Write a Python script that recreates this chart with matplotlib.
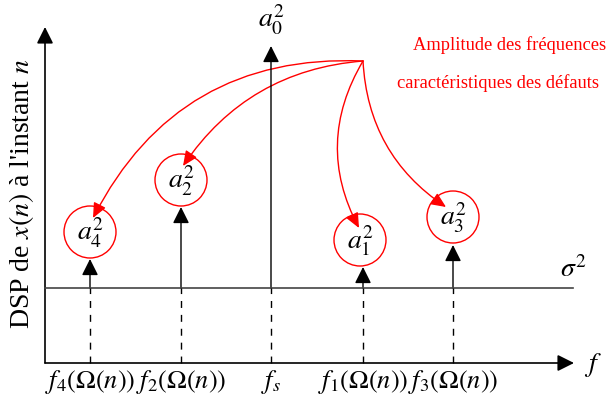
import matplotlib
matplotlib.use("Agg")
import matplotlib.pyplot as plt
from matplotlib.patches import FancyArrowPatch, Circle

plt.rcParams['font.family'] = ['Liberation Serif', 'DejaVu Serif']
plt.rcParams['mathtext.fontset'] = 'stix'

# diagram laid out in pixel units (y downwards)
freq_x = [90, 181, 271, 363, 453]
freq_labels = [r'$f_4(\Omega(n))$', r'$f_2(\Omega(n))$', r'$f_s$',
               r'$f_1(\Omega(n))$', r'$f_3(\Omega(n))$']
peak_top = [260, 208, 47, 268, 246]          # arrow tips of spectral lines
amp_names = [r'$a_4^2$', r'$a_2^2$', None, r'$a_1^2$', r'$a_3^2$']
circle_xy = [(90, 233), (181, 181), None, (360, 241), (453, 218)]
circle_r = 26
red_tips = [(93, 219), (183, 167), None, (359, 229), (446, 208)]
red_rad = [0.32, 0.24, None, 0.28, 0.25]
source = (363, 62)

x0, x_end = 45, 574
y_axis_bottom, y_axis_top = 364, 28
noise_y = 289

fig = plt.figure(figsize=(6.07, 4.02), dpi=100)
ax = fig.add_axes([0, 0, 1, 1])
ax.set_xlim(0, 607); ax.set_ylim(402, 0)
ax.axis('off')

def arrow(p0, p1, color='black', lw=1.0, rad=0.0, hw=5, hl=10):
    a = FancyArrowPatch(p0, p1, arrowstyle=f'-|>,head_width={hw/2:.1f},head_length={hl/2:.1f}',
                        connectionstyle=f'arc3,rad={rad}', color=color, lw=lw,
                        shrinkA=0, shrinkB=0, mutation_scale=2)
    ax.add_patch(a)

# axes
arrow((x0, y_axis_bottom), (x0, y_axis_top), lw=1.2)
arrow((x0, y_axis_bottom), (x_end, y_axis_bottom), lw=1.2)
ax.plot([x0, x_end - 1], [noise_y, noise_y], color='#444444', lw=1.2)
ax.text(573, 270, r'$\sigma^2$', fontsize=20, ha='center', va='center')
ax.text(593, 365, r'$f$', fontsize=20, ha='center', va='center')
ax.text(22, 194, "DSP de $x(n)$ à l'instant $n$", fontsize=20, rotation=90,
        ha='center', va='center')

# spectral lines
for i, fx in enumerate(freq_x):
    ax.plot([fx, fx], [y_axis_bottom, noise_y], color='black', lw=1.0,
            ls=(0, (5, 5)))
    arrow((fx, noise_y), (fx, peak_top[i]), lw=1.0)
    ax.text(fx, 382, freq_labels[i], fontsize=19, ha='center', va='center')
    if circle_xy[i] is not None:
        cx, cy = circle_xy[i]
        ax.add_patch(Circle((cx, cy), circle_r, fill=False, ec='red', lw=1.0))
        ax.text(cx, cy, amp_names[i], fontsize=20, ha='center', va='center')
        arrow(source, red_tips[i], color='red', lw=1.0, rad=red_rad[i],
              hw=4, hl=9)

ax.text(271, 20, r'$a_0^2$', fontsize=20, ha='center', va='center')

ax.text(510, 45, 'Amplitude des fréquences', color='red', fontsize=13.3,
        ha='center', va='center')
ax.text(498, 83, 'caractéristiques des défauts', color='red', fontsize=13.3,
        ha='center', va='center')

plt.savefig('out.png', dpi=100)
